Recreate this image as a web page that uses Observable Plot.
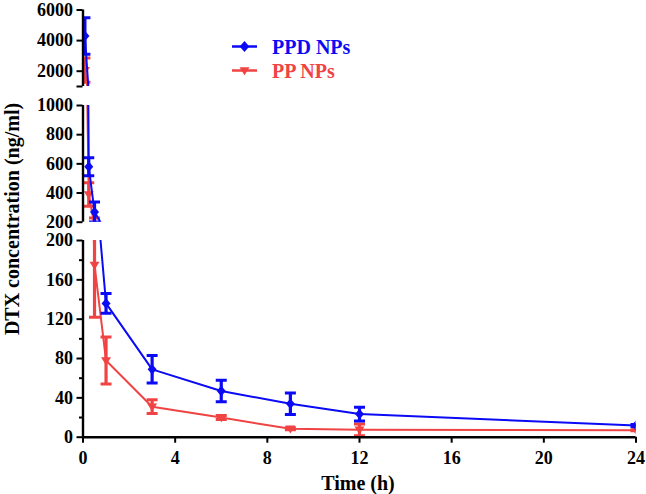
<!DOCTYPE html>
<html>
<head>
<meta charset="utf-8">
<script src="https://cdn.jsdelivr.net/npm/d3@7"></script>
<script src="https://cdn.jsdelivr.net/npm/@observablehq/plot@0.6"></script>
<style>
  html, body { margin: 0; padding: 0; background: white; }
  #chart { position: relative; width: 646px; height: 494px; overflow: hidden; font-family: "Liberation Serif", "Times New Roman", serif; font-weight: bold; }
  #chart svg.seg { position: absolute; left: 0; top: 0; }
  .ylab { position: absolute; left: 12px; top: 219px; transform: translate(-50%, -50%) rotate(-90deg); white-space: nowrap; font-size: 20px; color: #000; }
  .xlab { position: absolute; left: 358px; top: 483px; transform: translate(-50%, -50%); white-space: nowrap; font-size: 20px; color: #000; }
</style>
</head>
<body>
<div id="chart"></div>
<script>
// ---- data ----
const times   = [0.083, 0.25, 0.5, 1, 3, 6, 9, 12, 24];
const ppdMean = [4300, 580, 270, 136, 69, 47, 34, 23.5, 12];
const ppdSD   = [1200, 62, 68, 10, 14, 11, 11, 7, 1];
const ppMean  = [2070, 390, 175, 78, 31, 20, 8.5, 7.5, 7];
const ppSD    = [800, 80, 53, 24, 7, 2, 1, 6, 0.5];
const seriesNames = ["PPD NPs", "PP NPs"];
const xTicks = [0, 4, 8, 12, 16, 20, 24];
const topTicks = [2000, 4000, 6000];
const midTicks = [200, 400, 600, 800, 1000];
const lowTicks = [0, 40, 80, 120, 160, 200];
const lowMinor = [20, 60, 100, 140, 180];

const BLUE = "#0a0af5", RED = "#f04343";

const rows = s => {
  const m = s === "PPD NPs" ? ppdMean : ppMean;
  const e = s === "PPD NPs" ? ppdSD : ppSD;
  return times.map((t, i) => ({t, v: m[i], lo: m[i] - e[i], hi: m[i] + e[i], s}));
};
const ppd = rows(seriesNames[0]);
const pp = rows(seriesNames[1]);

// custom symbols
const cap = {draw(ctx, size) { const w = Math.sqrt(size / Math.PI); ctx.moveTo(-w, 0); ctx.lineTo(w, 0); }};
const diamond = {draw(ctx, size) { const r = Math.sqrt(size / Math.PI); ctx.moveTo(0, -r * 1.15); ctx.lineTo(r, 0); ctx.lineTo(0, r * 1.15); ctx.lineTo(-r, 0); ctx.closePath(); }};
const triDown = {draw(ctx, size) { const r = Math.sqrt(size / Math.PI); ctx.moveTo(-r, -r * 0.65); ctx.lineTo(r, -r * 0.65); ctx.lineTo(0, r * 0.95); ctx.closePath(); }};

function seriesMarks(data, color, sym, r) {
  return [
    Plot.line(data, {x: "t", y: "v", stroke: color, strokeWidth: 2, clip: true}),
    Plot.ruleX(data, {x: "t", y1: "lo", y2: "hi", stroke: color, strokeWidth: 3.2, clip: true}),
    Plot.dot(data, {x: "t", y: "hi", symbol: cap, r: 5.5, stroke: color, strokeWidth: 3, fill: "none", clip: true}),
    Plot.dot(data, {x: "t", y: "lo", symbol: cap, r: 5.5, stroke: color, strokeWidth: 3, fill: "none", clip: true}),
    Plot.dot(data, {x: "t", y: "v", symbol: sym, r, fill: color, stroke: "none", clip: true})
  ];
}

const W = 646, H = 494;
function segment({domain, top, bottom, ticks, tickFmt, extra = [], xAxis = false}) {
  return Plot.plot({
    width: W, height: H,
    marginLeft: 82.5, marginRight: 10.5,
    marginTop: top, marginBottom: H - bottom,
    x: {domain: [0, 24], axis: xAxis ? undefined : null, label: null},
    y: {domain, label: null},
    style: {background: "none", fontFamily: "Liberation Serif, Times New Roman, serif", fontWeight: "bold", fontSize: "18px", color: "#000", overflow: "visible"},
    marks: [
      Plot.axisY({ticks, tickSize: 6, tickPadding: 4, strokeWidth: 2, tickFormat: tickFmt, label: null}),
      ...extra,
      ...(xAxis ? [Plot.axisX({ticks: xTicks, tickSize: 6, tickPadding: 8, strokeWidth: 2, label: null})] : []),
      ...seriesMarks(pp, RED, triDown, 5),
      ...seriesMarks(ppd, BLUE, diamond, 4.5),
      Plot.ruleX([0], {stroke: "#000", strokeWidth: 2.4}),
      ...(xAxis ? [Plot.ruleY([0], {stroke: "#000", strokeWidth: 2.4})] : [])
    ]
  });
}

const chart = document.getElementById("chart");
const fmt = d => String(d);
const plots = [
  segment({domain: [1000, 6000], top: 9.5, bottom: 86, ticks: topTicks, tickFmt: fmt,
    extra: [Plot.axisY({ticks: [1000], tickSize: 6, strokeWidth: 2, tickFormat: () => "", label: null})]}),
  segment({domain: [200, 1000], top: 105, bottom: 221.7, ticks: midTicks, tickFmt: fmt}),
  segment({domain: [0, 200], top: 240, bottom: 436.7, ticks: lowTicks, tickFmt: fmt, xAxis: true,
    extra: [Plot.axisY({ticks: lowMinor, tickSize: 3.5, strokeWidth: 2, tickFormat: () => "", label: null})]})
];
plots.forEach(p => { p.classList.add("seg"); chart.appendChild(p); });

// axis titles
const yl = document.createElement("div"); yl.className = "ylab"; yl.textContent = "DTX concentration (ng/ml)"; chart.appendChild(yl);
const xl = document.createElement("div"); xl.className = "xlab"; xl.textContent = "Time (h)"; chart.appendChild(xl);

// legend
const ns = "http://www.w3.org/2000/svg";
const lg = document.createElementNS(ns, "svg");
lg.setAttribute("width", W); lg.setAttribute("height", 100);
lg.style.position = "absolute"; lg.style.left = "0"; lg.style.top = "0";
const items = [
  {name: seriesNames[0], color: BLUE, y: 46.5, shape: "M0,-5.6L4.8,0L0,5.6L-4.8,0Z"},
  {name: seriesNames[1], color: RED, y: 70.5, shape: "M-5,-3.2L5,-3.2L0,4.8Z"}
];
for (const it of items) {
  const l = document.createElementNS(ns, "line");
  l.setAttribute("x1", 232); l.setAttribute("x2", 257); l.setAttribute("y1", it.y); l.setAttribute("y2", it.y);
  l.setAttribute("stroke", it.color); l.setAttribute("stroke-width", 2.5); lg.appendChild(l);
  const p = document.createElementNS(ns, "path");
  p.setAttribute("d", it.shape); p.setAttribute("fill", it.color);
  p.setAttribute("transform", `translate(244.5,${it.y})`); lg.appendChild(p);
  const t = document.createElementNS(ns, "text");
  t.setAttribute("x", 272); t.setAttribute("y", it.y + 7);
  t.setAttribute("fill", it.color); t.setAttribute("font-size", 20);
  t.setAttribute("font-weight", "bold"); t.setAttribute("font-family", "Liberation Serif, Times New Roman, serif");
  t.textContent = it.name; lg.appendChild(t);
}
chart.appendChild(lg);
</script>
</body>
</html>
